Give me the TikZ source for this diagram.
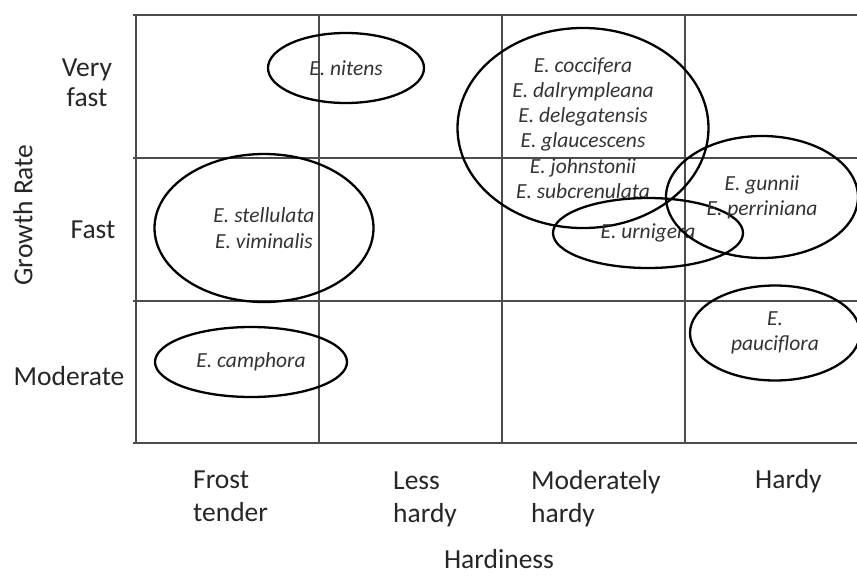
\documentclass[tikz,border=0pt]{standalone}
\usepackage{fontspec}
\setmainfont{Carlito}
\usetikzlibrary{shapes.geometric}
\begin{document}
\begin{tikzpicture}[x=1pt,y=-1pt,
  gridline/.style={draw=black!70, line width=1.3pt},
  sp/.style={ellipse, draw=black, line width=2.3pt, inner sep=0pt, align=center,
    font=\fontsize{21.5}{25.3}\selectfont\itshape, text=black!80},
  lab/.style={font=\fontsize{27.5}{33}\selectfont, text=black!85, inner sep=0pt, align=left}]
\useasboundingbox (0,0) rectangle (857,576);
% grid
\draw[gridline] (136,15) -- (136,443);
\foreach \x in {319,502,685} \draw[gridline] (\x,15) -- (\x,443);
\foreach \y in {15,158,301,443} \draw[gridline] (133,\y) -- (857,\y);
% species ellipses
\node[sp, minimum width=156, minimum height=70] (nitens) at (346,68) {E. nitens};
\node[sp, minimum width=251, minimum height=173] (cocc) at (583,128)
  {E. coccifera\\E. dalrympleana\\E. delegatensis\\E. glaucescens\\E. johnstonii\\E. subcrenulata};
\node[sp, minimum width=190, minimum height=70] (urn) at (648,233) {E. urnigera};
\node[sp, minimum width=192, minimum height=122] (gunn) at (762,197) {E. gunnii\\E. perriniana};
\node[sp, minimum width=170, minimum height=95] (pauc) at (775,333) {E.\\pauciflora};
\node[sp, minimum width=219, minimum height=148] (stell) at (264,228) {E. stellulata\\E. viminalis};
\node[sp, minimum width=192, minimum height=70] (camph) at (251,362) {E. camphora};
% axis labels
\node[lab, font=\fontsize{27.5}{30}\selectfont, align=center, anchor=base] (vfast) at (87,106) {Very\\fast};
\node[lab, anchor=base] (fast) at (93,238) {Fast};
\node[lab, anchor=base] (mod) at (69,385) {Moderate};
\node[lab, rotate=90] (gr) at (23,215) {Growth Rate};
\node[lab, anchor=base west] (frost) at (193,521) {Frost\\tender};
\node[lab, anchor=base west] (less) at (393,522) {Less\\hardy};
\node[lab, anchor=base west] (modh) at (531,522) {Moderately\\hardy};
\node[lab, anchor=base west] (hardy) at (755,488) {Hardy};
\node[lab, anchor=base] (hardiness) at (499,568) {Hardiness};
\end{tikzpicture}
\end{document}
